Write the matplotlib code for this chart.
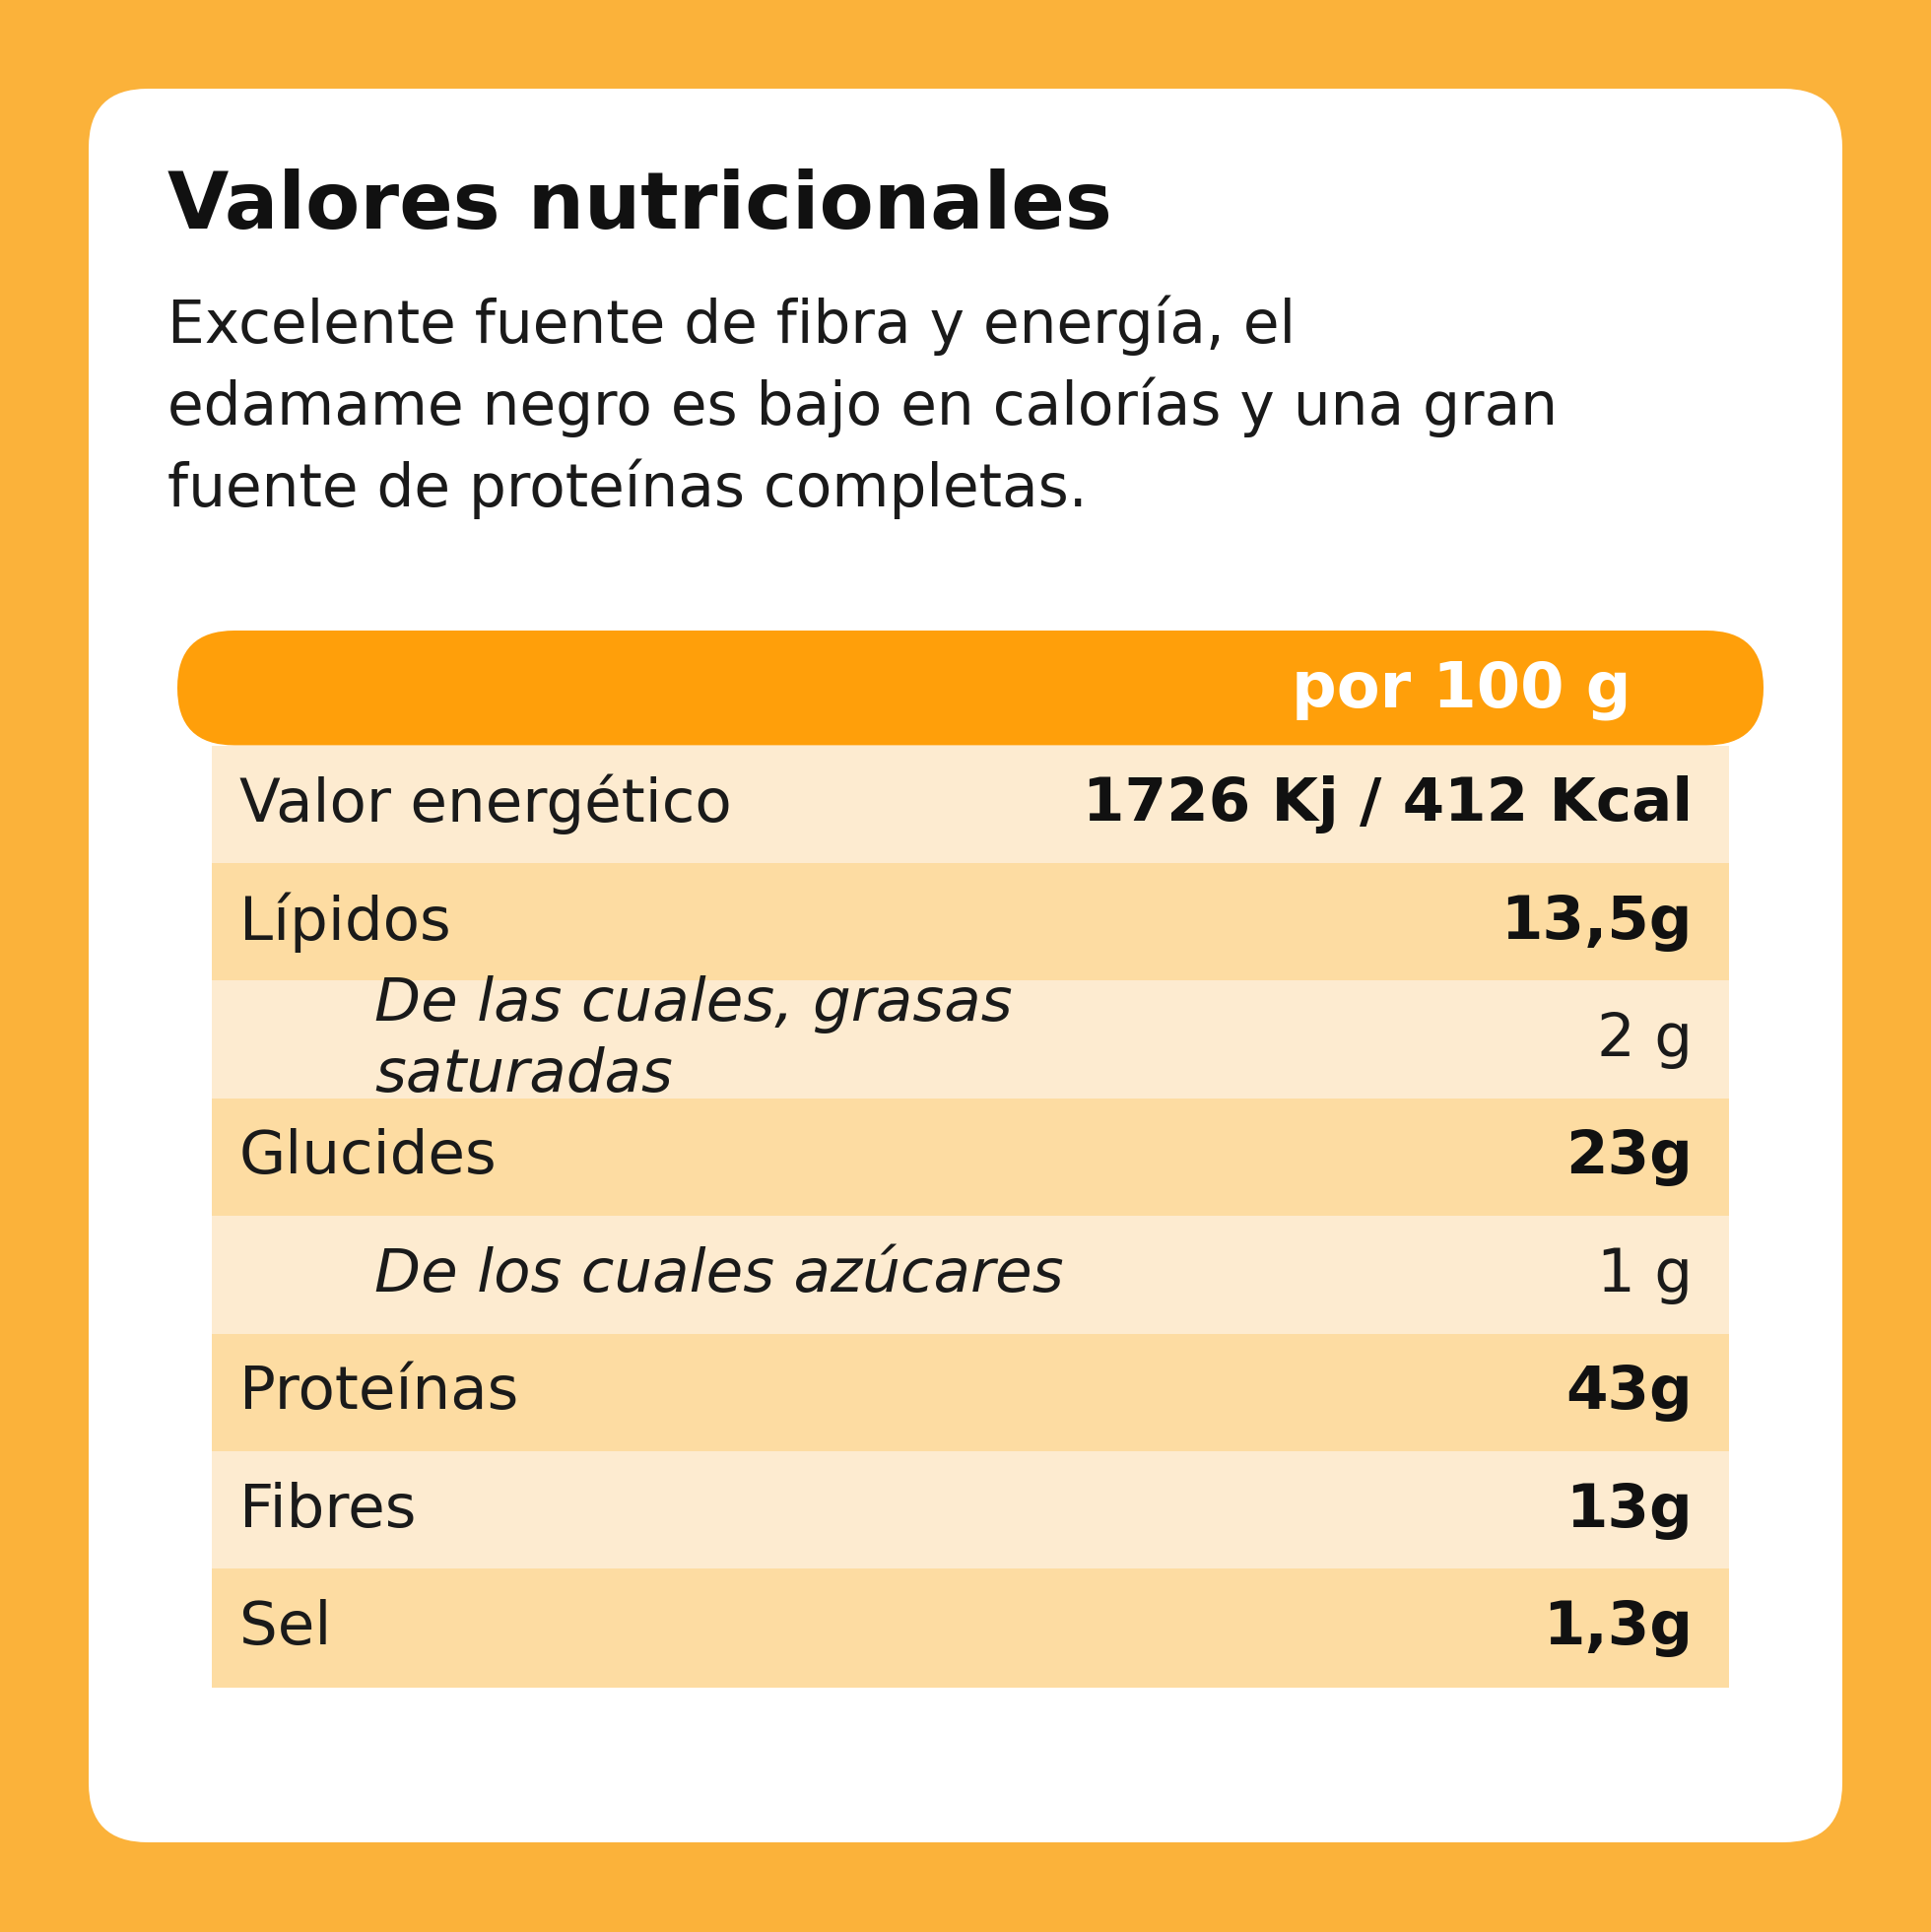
import matplotlib
matplotlib.use("Agg")
import matplotlib.pyplot as plt
from matplotlib.patches import FancyBboxPatch

title = "Valores nutricionales"
subtitle = ["Excelente fuente de fibra y energía, el",
            "edamame negro es bajo en calorías y una gran",
            "fuente de proteínas completas."]
header = "por 100 g"
labels = ["Valor energético", "Lípidos", "De las cuales, grasas\nsaturadas", "Glucides",
          "De los cuales azúcares", "Proteínas", "Fibres", "Sel"]
values = ["1726 Kj / 412 Kcal", "13,5g", "2 g", "23g", "1 g", "43g", "13g", "1,3g"]
is_sub = [False, False, True, False, True, False, False, False]

W, H = 1960, 1961
fig = plt.figure(figsize=(W/100, H/100), dpi=100)
fig.patch.set_facecolor("#FBB23A")
ax = fig.add_axes([0, 0, 1, 1])
ax.set_xlim(0, W); ax.set_ylim(H, 0); ax.axis("off")
FONT = "DejaVu Sans"

ax.add_patch(FancyBboxPatch((150, 150), 1660, 1660, boxstyle="round,pad=0,rounding_size=0",
                            fc="white", ec="none"))
ax.add_patch(FancyBboxPatch((150, 150), 1660, 1660, boxstyle="round,pad=60,rounding_size=60",
                            fc="white", ec="none"))

ax.text(170, 210, title, fontsize=58, fontweight="bold", family=FONT, va="center", color="#111111")
for i, line in enumerate(subtitle):
    ax.text(170, 330 + i*83, line, fontsize=43, family=FONT, va="center", color="#1a1a1a")

ax.add_patch(FancyBboxPatch((238, 698), 1494, 0.5, boxstyle="round,pad=58,rounding_size=58",
                            fc="#FF9F0A", ec="none"))
ax.text(1655, 700, header, fontsize=46, fontweight="bold", family=FONT, ha="right", va="center", color="white")

row_h = 119.4
tops = [757 + i*row_h for i in range(len(labels))]
colors = ["#FDEBD0" if i % 2 == 0 else "#FDDCA2" for i in range(len(labels))]
ax.barh([t + row_h/2 for t in tops], [1540]*len(labels), height=row_h + 1, left=215,
        color=colors, edgecolor="none")
for t, lab, val, sub in zip(tops, labels, values, is_sub):
    cy = t + row_h/2
    if sub:
        ax.text(380, cy - (0 if "\n" not in lab else 0), lab, fontsize=44, style="italic", family=FONT,
                va="center", color="#1a1a1a", linespacing=1.3)
        ax.text(1718, cy, val, fontsize=44, family=FONT, ha="right", va="center", color="#1a1a1a")
    else:
        ax.text(243, cy, lab, fontsize=44, family=FONT, va="center", color="#1a1a1a")
        ax.text(1718, cy, val, fontsize=44, fontweight="bold", family=FONT, ha="right", va="center", color="#111111")

fig.savefig("out.png", dpi=100, facecolor=fig.get_facecolor())
